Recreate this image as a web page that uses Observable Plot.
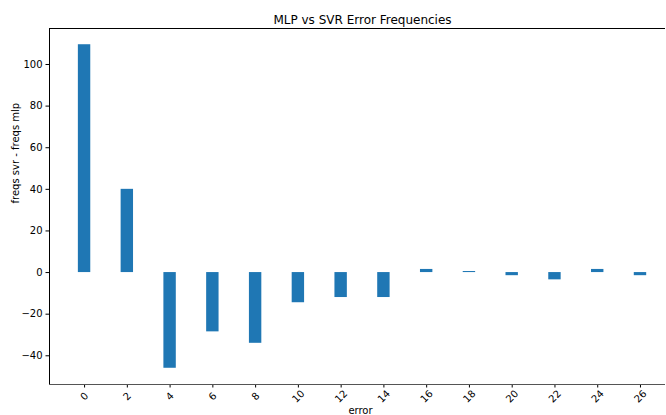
<!DOCTYPE html>
<html>
<head>
<meta charset="utf-8">
<script src="https://cdn.jsdelivr.net/npm/d3@7"></script>
<script src="https://cdn.jsdelivr.net/npm/@observablehq/plot@0.6"></script>
<style>
  html, body { margin: 0; padding: 0; background: #fff; }
  svg { display: block; }
</style>
</head>
<body>
<div id="chart"></div>
<script>
const errors = [0, 2, 4, 6, 8, 10, 12, 14, 16, 18, 20, 22, 24, 26];
const diffs = [109.5, 40, -46, -28.5, -34, -14.5, -12, -12, 1.5, 0.5, -1.5, -3.5, 1.5, -1.5];
const xTicks = [0, 2, 4, 6, 8, 10, 12, 14, 16, 18, 20, 22, 24, 26];
const yTicks = [-40, -20, 0, 20, 40, 60, 80, 100];
const title = "MLP vs SVR Error Frequencies";
const xLabel = "error";
const yLabel = "freqs svr - freqs mlp";

const data = errors.map((e, i) => ({e, v: diffs[i]}));
const yDom = [-53.8, 117.3];
const font = "DejaVu Sans, sans-serif";

const chart = Plot.plot({
  width: 666,
  height: 415,
  marginLeft: 49,
  marginRight: 1,
  marginTop: 28,
  marginBottom: 31,
  style: {fontFamily: font, fontSize: "10px", color: "#000", background: "#fff"},
  x: {type: "linear", domain: [-1.64, 27.17]},
  y: {type: "linear", domain: yDom},
  marks: [
    Plot.rectY(data, {x1: d => d.e - 0.29, x2: d => d.e + 0.29, y1: 0, y2: "v", fill: "#1f77b4"}),
    Plot.axisY({ticks: yTicks, tickSize: 3.5, tickPadding: 3.5, tickFormat: d => d < 0 ? "\u2212" + (-d) : String(d), label: null, fontSize: 10, stroke: "#000"}),
    Plot.axisX({ticks: xTicks, tickSize: 3.5, tickFormat: () => "", label: null, stroke: "#000"}),
    Plot.text(xTicks, {x: d => d, y: () => yDom[0], dy: 12, rotate: -45, text: d => String(d), fontSize: 10, fill: "#000"}),
    Plot.ruleX([-1.64], {x: d => d, stroke: "#000", strokeWidth: 1}),
    Plot.ruleY([yDom[1]], {y: d => d, stroke: "#000", strokeWidth: 1}),
    Plot.ruleY([yDom[0]], {y: d => d, stroke: "#555", strokeWidth: 1}),
    Plot.text([title], {frameAnchor: "top", dx: 5, dy: -5, lineAnchor: "bottom", fontSize: 12, fill: "#000"}),
    Plot.text([xLabel], {frameAnchor: "bottom", dx: 3, dy: 22, lineAnchor: "top", fontSize: 10, fill: "#000"}),
    Plot.text([yLabel], {frameAnchor: "left", dx: -34, dy: -3, rotate: -90, fontSize: 10, fill: "#000"})
  ]
});
document.getElementById("chart").appendChild(chart);
</script>
</body>
</html>
